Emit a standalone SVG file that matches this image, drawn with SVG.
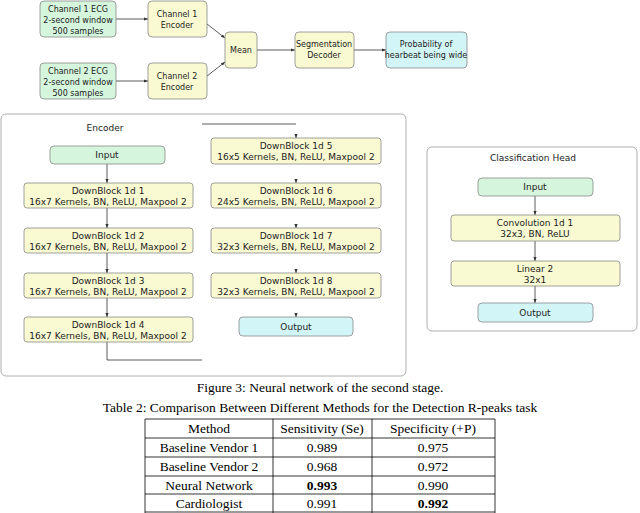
<svg xmlns="http://www.w3.org/2000/svg" width="640" height="513" viewBox="0 0 640 513">
<style>
text{font-family:"DejaVu Sans",sans-serif;font-size:9px;fill:#222;text-anchor:middle}
.top text{font-size:8px}
.g{fill:#d5f5dc;stroke:#888;stroke-width:0.8}
.y{fill:#fafad2;stroke:#888;stroke-width:0.8}
.c{fill:#d2f6f8;stroke:#888;stroke-width:0.8}
.f{fill:#fff;stroke:#999;stroke-width:0.8}
.l{stroke:#333;stroke-width:0.8;fill:none}
.t{font-family:"Liberation Serif",serif;font-size:13.5px;fill:#000}
.tl{stroke:#000;stroke-width:0.8}
</style>
<defs><marker id="a" markerWidth="6" markerHeight="6" refX="5" refY="3" orient="auto"><path d="M0,1 L5,3 L0,5z" fill="#333"/></marker></defs>
<rect class="f" x="1" y="114" width="405" height="262" rx="5"/>
<text x="105" y="131">Encoder</text>
<rect class="f" x="427" y="147" width="210" height="184" rx="5"/>
<text x="533" y="161">Classification Head</text>
<g id="connectors">
<path class="l" marker-end="url(#a)" d="M116,19H148"/>
<path class="l" marker-end="url(#a)" d="M116,81H148"/>
<path class="l" marker-end="url(#a)" d="M207,24L225,38"/>
<path class="l" marker-end="url(#a)" d="M207,76L225,62"/>
<path class="l" marker-end="url(#a)" d="M257,50H295"/>
<path class="l" marker-end="url(#a)" d="M354,50H386"/>
<path class="l" marker-end="url(#a)" d="M107,164V183"/>
<path class="l" marker-end="url(#a)" d="M107,208V228"/>
<path class="l" marker-end="url(#a)" d="M107,253V273"/>
<path class="l" marker-end="url(#a)" d="M107,298V317"/>
<path class="l" d="M107,342V360H202"/>
<path class="l" d="M202,124H296"/>
<path class="l" marker-end="url(#a)" d="M296,135V138"/>
<path class="l" marker-end="url(#a)" d="M296,180V183"/>
<path class="l" marker-end="url(#a)" d="M296,225V228"/>
<path class="l" marker-end="url(#a)" d="M296,270V273"/>
<path class="l" marker-end="url(#a)" d="M296,314V317"/>
<path class="l" marker-end="url(#a)" d="M535,196V215"/>
<path class="l" marker-end="url(#a)" d="M535,241V261"/>
<path class="l" marker-end="url(#a)" d="M535,286V303"/>
</g>
<g class="top">
<g id="ch1"><rect class="g" x="40" y="1" width="76" height="36" rx="4"/><text x="78" y="12">Channel 1 ECG</text><text x="78" y="23">2-second window</text><text x="78" y="34">500 samples</text></g>
<g id="ch2"><rect class="g" x="40" y="63" width="76" height="36" rx="4"/><text x="78" y="74">Channel 2 ECG</text><text x="78" y="85">2-second window</text><text x="78" y="96">500 samples</text></g>
<g id="enc1"><rect class="y" x="148" y="1" width="59" height="36" rx="4"/><text x="177" y="17">Channel 1</text><text x="177" y="28">Encoder</text></g>
<g id="enc2"><rect class="y" x="148" y="63" width="59" height="36" rx="4"/><text x="177" y="79">Channel 2</text><text x="177" y="90">Encoder</text></g>
<g id="mean"><rect class="y" x="225" y="32" width="32" height="36" rx="4"/><text x="241" y="53">Mean</text></g>
<g id="dec"><rect class="y" x="295" y="32" width="59" height="36" rx="4"/><text x="324" y="47">Segmentation</text><text x="324" y="58">Decoder</text></g>
<g id="prob"><rect class="c" x="386" y="32" width="81" height="36" rx="4"/><text x="426" y="47">Probability of</text><text x="426" y="58">hearbeat being wide</text></g>
</g>
<g id="e-in"><rect class="g" x="50" y="146" width="115" height="18" rx="4"/><text x="107" y="158">Input</text></g>
<g id="db1"><rect class="y" x="24" y="183" width="169" height="25" rx="3"/><text x="108" y="194">DownBlock 1d 1</text><text x="108" y="205">16x7 Kernels, BN, ReLU, Maxpool 2</text></g>
<g id="db2"><rect class="y" x="24" y="228" width="169" height="25" rx="3"/><text x="108" y="239">DownBlock 1d 2</text><text x="108" y="250">16x7 Kernels, BN, ReLU, Maxpool 2</text></g>
<g id="db3"><rect class="y" x="24" y="273" width="169" height="25" rx="3"/><text x="108" y="284">DownBlock 1d 3</text><text x="108" y="295">16x7 Kernels, BN, ReLU, Maxpool 2</text></g>
<g id="db4"><rect class="y" x="24" y="317" width="169" height="25" rx="3"/><text x="108" y="328">DownBlock 1d 4</text><text x="108" y="339">16x7 Kernels, BN, ReLU, Maxpool 2</text></g>
<g id="db5"><rect class="y" x="211" y="138" width="170" height="26" rx="3"/><text x="296" y="149">DownBlock 1d 5</text><text x="296" y="160">16x5 Kernels, BN, ReLU, Maxpool 2</text></g>
<g id="db6"><rect class="y" x="211" y="183" width="170" height="25" rx="3"/><text x="296" y="194">DownBlock 1d 6</text><text x="296" y="205">24x5 Kernels, BN, ReLU, Maxpool 2</text></g>
<g id="db7"><rect class="y" x="211" y="228" width="170" height="25" rx="3"/><text x="296" y="239">DownBlock 1d 7</text><text x="296" y="250">32x3 Kernels, BN, ReLU, Maxpool 2</text></g>
<g id="db8"><rect class="y" x="211" y="273" width="170" height="25" rx="3"/><text x="296" y="284">DownBlock 1d 8</text><text x="296" y="295">32x3 Kernels, BN, ReLU, Maxpool 2</text></g>
<g id="e-out"><rect class="c" x="239" y="317" width="114" height="19" rx="4"/><text x="296" y="330">Output</text></g>
<g id="h-in"><rect class="g" x="478" y="178" width="115" height="18" rx="4"/><text x="535" y="190">Input</text></g>
<g id="conv"><rect class="y" x="451" y="215" width="169" height="26" rx="3"/><text x="535" y="226">Convolution 1d 1</text><text x="535" y="237">32x3, BN, ReLU</text></g>
<g id="lin"><rect class="y" x="451" y="261" width="169" height="25" rx="3"/><text x="535" y="272">Linear 2</text><text x="535" y="283">32x1</text></g>
<g id="h-out"><rect class="c" x="478" y="303" width="115" height="19" rx="4"/><text x="535" y="316">Output</text></g>
<text class="t" x="320" y="392">Figure 3: Neural network of the second stage.</text>
<text class="t" x="320" y="412">Table 2: Comparison Between Different Methods for the Detection R-peaks task</text>
<g class="tl">
<line x1="145" y1="419" x2="495" y2="419"/><line x1="145" y1="438" x2="495" y2="438"/><line x1="145" y1="457" x2="495" y2="457"/><line x1="145" y1="476" x2="495" y2="476"/><line x1="145" y1="494" x2="495" y2="494"/><line x1="145" y1="512" x2="495" y2="512"/>
<line x1="145" y1="419" x2="145" y2="513"/><line x1="273" y1="419" x2="273" y2="513"/><line x1="372" y1="419" x2="372" y2="513"/><line x1="495" y1="419" x2="495" y2="513"/>
</g>
<text class="t" x="209" y="433">Method</text><text class="t" x="322" y="433">Sensitivity (Se)</text><text class="t" x="433" y="433">Specificity (+P)</text>
<text class="t" x="209" y="452">Baseline Vendor 1</text><text class="t" x="322" y="452">0.989</text><text class="t" x="433" y="452">0.975</text>
<text class="t" x="209" y="471">Baseline Vendor 2</text><text class="t" x="322" y="471">0.968</text><text class="t" x="433" y="471">0.972</text>
<text class="t" x="209" y="490">Neural Network</text><text class="t" x="322" y="490" font-weight="bold">0.993</text><text class="t" x="433" y="490">0.990</text>
<text class="t" x="209" y="508">Cardiologist</text><text class="t" x="322" y="508">0.991</text><text class="t" x="433" y="508" font-weight="bold">0.992</text>
</svg>
